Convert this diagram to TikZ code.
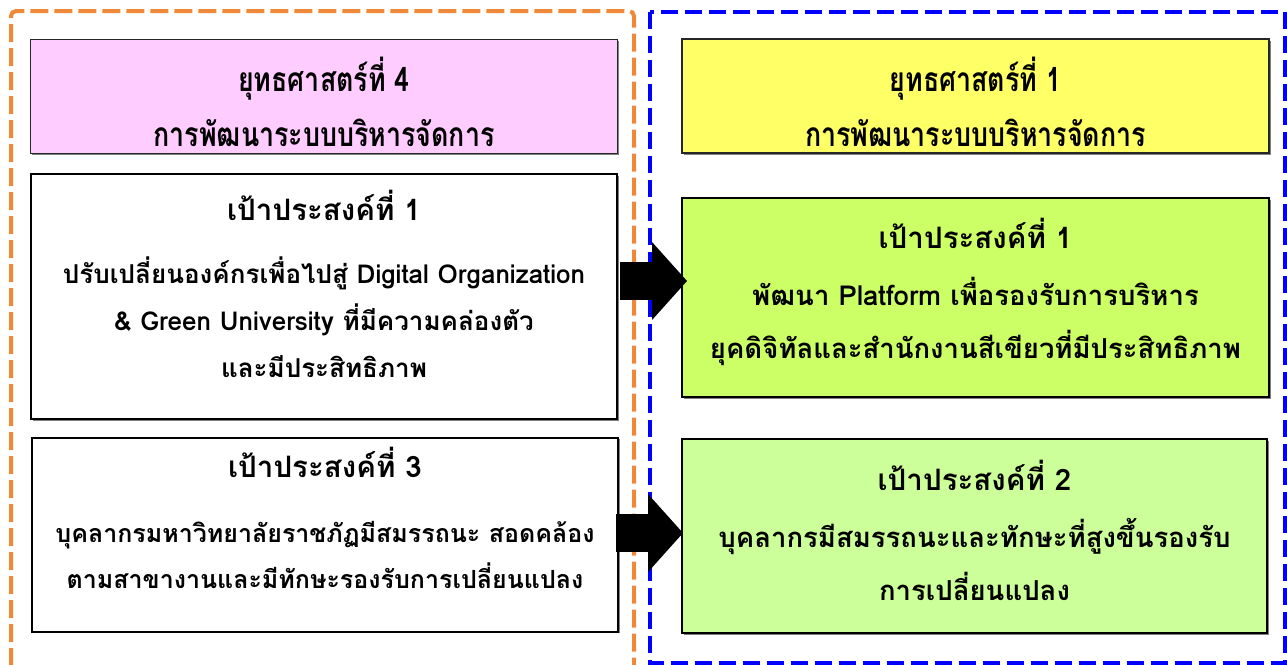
\documentclass[tikz,border=0pt]{standalone}
\usepackage{fontspec}
\newfontfamily\thai[Script=Thai]{Loma}
\newfontfamily\thaicond[Script=Thai,FakeStretch=0.8]{Loma}
\usetikzlibrary{arrows.meta,shadows}
\definecolor{frameorange}{HTML}{F0883A}
\definecolor{frameblue}{HTML}{0000FF}
\definecolor{stratpink}{HTML}{FFCCFF}
\definecolor{stratyellow}{HTML}{FFFF66}
\definecolor{goalgreen}{HTML}{CCFF66}
\definecolor{goallime}{HTML}{CCFF99}
\tikzset{
  boxshadow/.style={drop shadow={shadow xshift=1.5pt, shadow yshift=-1.5pt, fill=black!50, opacity=1}},
  stratbox/.style={draw=black!85, line width=1.5pt, minimum width=587pt, minimum height=114pt,
    align=center, inner sep=0pt, boxshadow, font=\thaicond\bfseries\fontsize{33.5}{55}\selectfont},
  goalbox/.style={draw, line width=2pt, align=center, inner sep=0pt, boxshadow,
    font=\thai\bfseries\fontsize{26}{47}\selectfont},
  greenbox/.style={goalbox, font=\thai\bfseries\fontsize{27.5}{53}\selectfont},
  blockarrow/.style={line width=38pt, -{Triangle[length=35pt,width=78pt,line width=0pt]}},
  orangeframe/.style={draw=frameorange, line width=4pt, dash pattern=on 18pt off 6pt, rounded corners=5pt},
  blueframe/.style={draw=frameblue, line width=4.5pt, dash pattern=on 17pt off 7pt}
}
\newcommand{\gtitle}[1]{{\fontsize{29.5}{32}\selectfont #1}}
\newcommand{\tstrut}[1]{\rule{0pt}{#1pt}}
\newcommand{\bstrut}[1]{\rule[-#1pt]{0pt}{#1pt}}
\begin{document}
\begin{tikzpicture}[x=1pt, y=-1pt]
\useasboundingbox[fill=white] (0,0) rectangle (1287,664);
% dashed frames
\path[orangeframe] (11,690) -- (11,11) -- (634,11) -- (634,690);
\path[blueframe] (650,12) rectangle (1285,663);
% strategies
\node[stratbox, fill=stratpink] (s4) at (324,96.5)
  {\tstrut{52}ยุทธศาสตร์ที่ 4\\การพัฒนาระบบบริหารจัดการ\bstrut{7}};
\node[stratbox, fill=stratyellow] (s1) at (975.5,96)
  {\tstrut{52}ยุทธศาสตร์ที่ 1\\การพัฒนาระบบบริหารจัดการ\bstrut{6}};
% goals
\node[goalbox, fill=white, minimum width=586pt, minimum height=245pt] (g41) at (324,296.5)
  {\tstrut{40}\gtitle{เป้าประสงค์ที่ 1}\\[16pt]
   ปรับเปลี่ยนองค์กรเพื่อไปสู่ Digital Organization\\
   \& Green University ที่มีความคล่องตัว\\
   และมีประสิทธิภาพ\bstrut{36}};
\node[goalbox, fill=white, minimum width=586pt, minimum height=193pt,
  font=\thai\bfseries\fontsize{25}{46}\selectfont] (g43) at (325,534.5)
  {\tstrut{40}\gtitle{เป้าประสงค์ที่ 3}\\[19pt]
   บุคลากรมหาวิทยาลัยราชภัฏมีสมรรถนะ สอดคล้อง\\
   ตามสาขางานและมีทักษะรองรับการเปลี่ยนแปลง\bstrut{43}};
\node[greenbox, fill=goalgreen, minimum width=587pt, minimum height=199pt] (g11) at (975.5,297.5)
  {\tstrut{40}\gtitle{เป้าประสงค์ที่ 1}\\[4pt]
   พัฒนา Platform เพื่อรองรับการบริหาร\\
   ยุคดิจิทัลและสำนักงานสีเขียวที่มีประสิทธิภาพ\bstrut{28}};
\node[greenbox, fill=goallime, minimum width=585pt, minimum height=194pt] (g12) at (974.5,536)
  {\tstrut{40}\gtitle{เป้าประสงค์ที่ 2}\\[4pt]
   บุคลากรมีสมรรถนะและทักษะที่สูงขึ้นรองรับ\\
   การเปลี่ยนแปลง\bstrut{22}};
% arrows
\path[draw, blockarrow] ([shift={(2,-15.5)}]g41.east) -- ([shift={(6,-16.5)}]g11.west);
\path[draw, blockarrow] ([shift={(-3,-1.5)}]g43.east) -- ([shift={(2,-3)}]g12.west);
\end{tikzpicture}
\end{document}
